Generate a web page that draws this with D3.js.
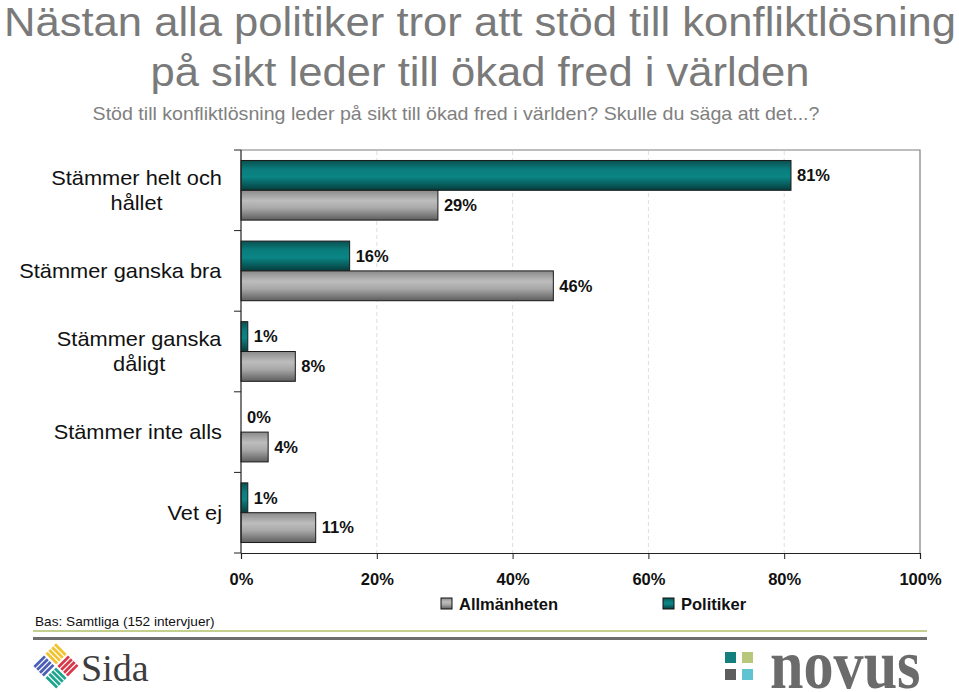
<!DOCTYPE html>
<html><head><meta charset="utf-8">
<script src="https://cdn.jsdelivr.net/npm/d3@7"></script>
<style>
html,body{margin:0;padding:0;background:#fff;}
svg{display:block;font-family:"Liberation Sans",Arial,sans-serif;}
</style></head>
<body><svg id="c" width="959" height="692"></svg>
<script>
const categories = ["Stämmer helt och hållet", "Stämmer ganska bra", "Stämmer ganska dåligt", "Stämmer inte alls", "Vet ej"];
const categoryLines = [["Stämmer helt och", "hållet"], ["Stämmer ganska bra"], ["Stämmer ganska", "dåligt"], ["Stämmer inte alls"], ["Vet ej"]];
const politiker = [81, 16, 1, 0, 1];
const allmanheten = [29, 46, 8, 4, 11];
const seriesNames = ["Politiker", "Allmänheten"];
const xTicks = [0, 20, 40, 60, 80, 100];
const titleLines = ["Nästan alla politiker tror att stöd till konfliktlösning", "på sikt leder till ökad fred i världen"];
const subtitle = "Stöd till konfliktlösning leder på sikt till ökad fred i världen? Skulle du säga att det...?";
const baseNote = "Bas: Samtliga (152 intervjuer)";

(function(){
const svg = d3.select("#c");
const defs = svg.append("defs");
const SX = 1.09; // horizontal stretch of regular text in the reference
function grad(id, stops){
  const g = defs.append("linearGradient").attr("id", id).attr("x1",0).attr("y1",0).attr("x2",0).attr("y2",1);
  stops.forEach(s => g.append("stop").attr("offset", s[0]).attr("stop-color", s[1]));
}
grad("gTeal", [[0,"#0b4f4f"],[0.3,"#0a7d7d"],[0.55,"#0b8585"],[1,"#063c3c"]]);
grad("gGray", [[0,"#8a8a8a"],[0.35,"#bdbdbd"],[0.6,"#a8a8a8"],[1,"#5e5e5e"]]);

// Titles
svg.append("g").selectAll("text").data(titleLines).join("text")
  .attr("transform", (d,i) => `translate(480,${36 + i*50}) scale(${SX},1)`)
  .attr("text-anchor","middle").attr("font-size", 40).attr("fill","#7a7a7a").text(d => d);
svg.append("text").attr("transform", `translate(456,120) scale(${SX},1)`).attr("text-anchor","middle")
  .attr("font-size", 18).attr("fill","#808080").text(subtitle);

// Plot
const pL = 241, pR = 920, pT = 150, pB = 553;
const x = d3.scaleLinear().domain([0,100]).range([pL, pR]);
const y = d3.scaleBand().domain(categories).range([pT, pB]).paddingInner(0.26).paddingOuter(0.13);
const ySub = d3.scaleBand().domain(seriesNames).range([0, y.bandwidth()]);

// frame top/right
svg.append("path").attr("d", `M${pL},${pT}H${pR}V${pB}`).attr("fill","none").attr("stroke","#7f7f7f").attr("stroke-width",1.2);

// grid
svg.append("g").selectAll("line").data(xTicks.slice(1,5)).join("line")
  .attr("x1", d => x(d)).attr("x2", d => x(d)).attr("y1", pT+1).attr("y2", pB)
  .attr("stroke","#dedede").attr("stroke-dasharray","4,3");

// bars
const rows = categories.map((c,i) => ({c, vals:[{s:"Politiker", v:politiker[i]},{s:"Allmänheten", v:allmanheten[i]}]}));
const g = svg.append("g").selectAll("g").data(rows).join("g").attr("transform", d => `translate(0,${y(d.c)})`);
g.selectAll("rect").data(d => d.vals.filter(e => e.v > 0)).join("rect")
  .attr("x", x(0)).attr("y", d => ySub(d.s)).attr("width", d => x(d.v) - x(0)).attr("height", ySub.bandwidth())
  .attr("fill", d => d.s === "Politiker" ? "url(#gTeal)" : "url(#gGray)")
  .attr("stroke","#1a1a1a").attr("stroke-width",1);
g.selectAll("text").data(d => d.vals).join("text")
  .attr("x", d => x(d.v) + 6).attr("y", d => ySub(d.s) + ySub.bandwidth()/2)
  .attr("dy","0.35em").attr("font-size", 16.5).attr("font-weight","bold").attr("fill","#111")
  .text(d => d.v + "%");

// y axis
const yAxis = svg.append("g");
yAxis.append("line").attr("x1", pL).attr("x2", pL).attr("y1", pT).attr("y2", pB).attr("stroke","#222").attr("stroke-width",1.2);
const edges = d3.range(categories.length+1).map(i => pT + i*(pB-pT)/categories.length);
yAxis.selectAll("line.t").data(edges).join("line").attr("class","t")
  .attr("x1", pL-7).attr("x2", pL).attr("y1", d => d).attr("y2", d => d).attr("stroke","#222");
categories.forEach((c,i) => {
  const lines = categoryLines[i];
  const cy = y(c) + y.bandwidth()/2;
  const lh = 25;
  const t = svg.append("text").attr("font-size", 20).attr("fill","#111").attr("text-anchor","middle");
  lines.forEach((l,k) => {
    t.append("tspan").attr("x", 0).attr("y", cy + (k - (lines.length-1)/2)*lh).attr("dy","0.35em").text(l);
  });
  const w = t.node().getBBox().width * SX;
  t.attr("transform", `translate(${222 - w/2},0) scale(${SX},1)`);
});

// x axis
const xa = svg.append("g").attr("transform", `translate(0,${pB})`)
  .call(d3.axisBottom(x).tickValues(xTicks).tickFormat(d => d + "%").tickSize(6).tickPadding(14));
xa.select(".domain").attr("stroke","#222").attr("stroke-width",1.2);
xa.selectAll(".tick line").attr("stroke","#222");
xa.selectAll("text").attr("font-size",16.5).attr("font-weight","bold").attr("fill","#111").attr("font-family","Liberation Sans, Arial, sans-serif");

// legend
const legendItems = [{n:"Allmänheten", f:"url(#gGray)", x:441}, {n:"Politiker", f:"url(#gTeal)", x:663}];
const lg = svg.append("g").selectAll("g").data(legendItems).join("g").attr("transform", d => `translate(${d.x},598)`);
lg.append("rect").attr("width",11).attr("height",11).attr("fill", d => d.f).attr("stroke","#111");
lg.append("text").attr("x",18).attr("y",6).attr("dy","0.35em").attr("font-size",16.5).attr("font-weight","bold").attr("fill","#111").text(d => d.n);

// base note and rules
svg.append("text").attr("transform","translate(35,626) scale(1.05,1)").attr("font-size",13).attr("fill","#111").text(baseNote);
svg.append("line").attr("x1",33).attr("x2",927).attr("y1",631).attr("y2",631).attr("stroke","#c3cf8e").attr("stroke-width",2);
svg.append("line").attr("x1",33).attr("x2",927).attr("y1",638.5).attr("y2",638.5).attr("stroke","#6e6e6e").attr("stroke-width",3);

// Sida logo
const sida = svg.append("g").attr("transform","translate(56,666) rotate(45)");
const quads = [{x:-16,y:-16,c:"#f2c230",v:false},{x:1,y:-16,c:"#d8394a",v:true},{x:-16,y:1,c:"#4a5fb5",v:true},{x:1,y:1,c:"#1fa58f",v:false}];
quads.forEach(q => {
  for(let k=0;k<4;k++){
    if(q.v) sida.append("rect").attr("x", q.x + k*4).attr("y", q.y).attr("width",2.8).attr("height",15).attr("fill",q.c);
    else sida.append("rect").attr("x", q.x).attr("y", q.y + k*4).attr("width",15).attr("height",2.8).attr("fill",q.c);
  }
});
svg.append("text").attr("x",81).attr("y",681).attr("font-family","Liberation Serif, serif").attr("font-size",38).attr("fill","#3d3d3d").text("Sida");

// Novus logo
const nsq = [{x:725,y:652,c:"#13807f"},{x:742,y:652,c:"#b7c77b"},{x:725,y:669,c:"#5d5d5d"},{x:742,y:669,c:"#5fc3d1"}];
svg.append("g").selectAll("rect").data(nsq).join("rect").attr("x",d=>d.x).attr("y",d=>d.y).attr("width",11).attr("height",11).attr("fill",d=>d.c);
svg.append("text").attr("transform","translate(770,688) scale(0.86,1)").attr("font-family","Liberation Serif, serif").attr("font-weight","bold").attr("font-size",70).attr("fill","#6b6b6b").text("novus");
})();
</script></body></html>
